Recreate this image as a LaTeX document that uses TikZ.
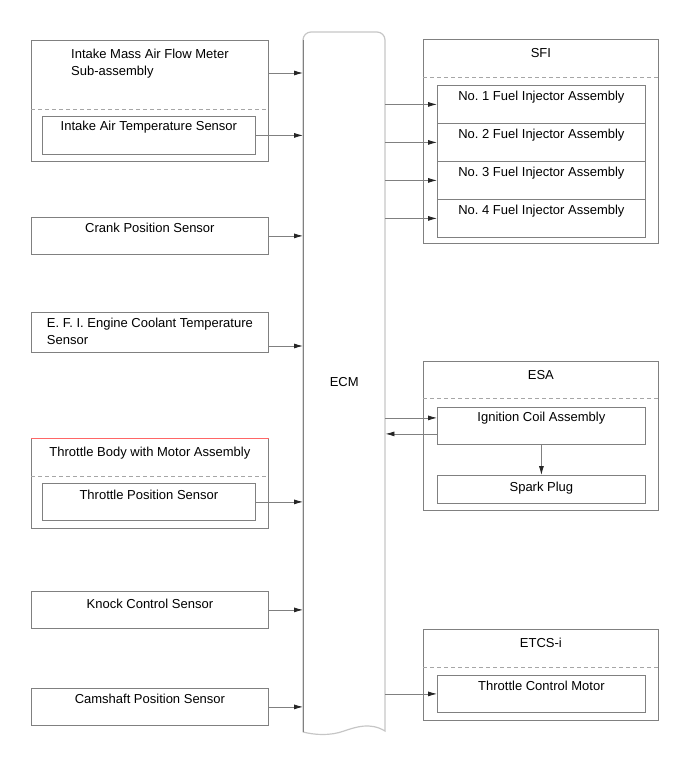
\documentclass[tikz,border=0pt]{standalone}
\usepackage{fontspec}
\setmainfont{Liberation Sans}
\usetikzlibrary{arrows.meta}
\tikzset{
  box/.style={draw=gray,line width=.8pt,anchor=north west,inner sep=0pt,minimum width=237pt},
  obox/.style={draw=gray,line width=.8pt,anchor=north west,inner sep=0pt,minimum width=235pt},
  ibox/.style={draw=gray,line width=.8pt,anchor=north west,inner sep=0pt,minimum width=208pt,minimum height=38pt},
  txt/.style={font=\fontsize{13}{17}\selectfont\frenchspacing,align=left,inner sep=0pt},
  dsh/.style={gray!70,line width=.8pt,dashed,dash pattern=on 4pt off 3pt},
  arr/.style={draw=gray,line width=.8pt,-{Latex[length=9pt,width=5pt,color=black!85]}}
}
\begin{document}
\begin{tikzpicture}[x=1pt,y=-1pt]
\useasboundingbox (0,0) rectangle (691,757);
% ECM
\node[anchor=north west,minimum width=82pt,minimum height=700pt,inner sep=0pt,
  font=\fontsize{13}{17}\selectfont] (ecm) at (303,32) {ECM};
\draw[gray!45,line width=1.2pt] (303,732) -- (303,40) arc[start angle=180,end angle=270,radius=8]
  -- (377,32) arc[start angle=270,end angle=360,radius=8] -- (385,731)
  .. controls (370,722) and (356,727) .. (344,731) .. controls (330,736) and (315,735) .. (303,732);
\draw[gray,line width=1pt] (303,732) -- (303,40);
% left side
\node[box,minimum height=121pt] (maf) at (31,40) {};
\node[txt] (maft) at ([yshift=-23.5pt]maf.north) {Intake Mass Air Flow Meter\\Sub-assembly};
\draw[dsh] ([yshift=-69pt]maf.north west) -- ([yshift=-69pt]maf.north east);
\node[box,minimum width=213pt,minimum height=38pt] (iat) at (42,116) {};
\node[txt] (iatt) at ([yshift=-11pt]iat.north) {Intake Air Temperature Sensor};

\node[box,minimum height=37pt] (crank) at (31,217) {};
\node[txt] (crankt) at ([yshift=-11pt]crank.north) {Crank Position Sensor};

\node[box,minimum height=40pt] (efi) at (31,312) {};
\node[txt] (efit) at ([yshift=-19pt]efi.north) {E. F. I. Engine Coolant Temperature\\Sensor};

\node[box,minimum height=90pt] (tb) at (31,438) {};
\draw[red!60,line width=.8pt] (tb.north west) -- (tb.north east);
\node[txt] (tbt) at ([yshift=-15pt]tb.north) {Throttle Body with Motor Assembly};
\draw[dsh] ([yshift=-38pt]tb.north west) -- ([yshift=-38pt]tb.north east);
\node[box,minimum width=213pt,minimum height=37pt] (tps) at (42,483) {};
\node[txt] (tpst) at ([yshift=-12pt]tps.north) {Throttle Position Sensor};

\node[box,minimum height=37pt] (knock) at (31,591) {};
\node[txt] (knockt) at ([yshift=-13pt]knock.north) {Knock Control Sensor};

\node[box,minimum height=37pt] (cam) at (31,688) {};
\node[txt] (camt) at ([yshift=-11pt]cam.north) {Camshaft Position Sensor};

% right side
\node[obox,minimum height=204pt] (sfi) at (423,39) {};
\node[txt] (sfit) at ([yshift=-14pt]sfi.north) {SFI};
\draw[dsh] ([yshift=-38pt]sfi.north west) -- ([yshift=-38pt]sfi.north east);
\foreach \i in {1,...,4}{
  \node[ibox] (inj\i) at (437,{85+38*(\i-1)}) {};
  \node[txt] (inj\i t) at ([yshift=-12pt]inj\i.north) {No. \i\ Fuel Injector Assembly};
  \draw[arr] (ecm.east |- inj\i.west) -- (inj\i.west);
}

\node[obox,minimum height=149pt] (esa) at (423,361) {};
\node[txt] (esat) at ([yshift=-14pt]esa.north) {ESA};
\draw[dsh] ([yshift=-37pt]esa.north west) -- ([yshift=-37pt]esa.north east);
\node[ibox,minimum height=37pt] (ign) at (437,407) {};
\node[txt] (ignt) at ([yshift=-11pt]ign.north) {Ignition Coil Assembly};
\node[ibox,minimum height=28pt] (spark) at (437,475) {};
\node[txt] (sparkt) at ([yshift=-13pt]spark.north) {Spark Plug};

\node[obox,minimum height=91pt] (etcs) at (423,629) {};
\node[txt] (etcst) at ([yshift=-14pt]etcs.north) {ETCS-i};
\draw[dsh] ([yshift=-38pt]etcs.north west) -- ([yshift=-38pt]etcs.north east);
\node[ibox,minimum height=37pt] (tcm) at (437,675) {};
\node[txt] (tcmt) at ([yshift=-11pt]tcm.north) {Throttle Control Motor};

% inputs
\draw[arr] ([yshift=-33pt]maf.north east) -- ([yshift=-33pt]maf.north east -| ecm.west);
\draw[arr] (iat.east) -- (iat.east -| ecm.west);
\draw[arr] (crank.east) -- (crank.east -| ecm.west);
\draw[arr] ([yshift=-34pt]efi.north east) -- ([yshift=-34pt]efi.north east -| ecm.west);
\draw[arr] (tps.east) -- (tps.east -| ecm.west);
\draw[arr] (knock.east) -- (knock.east -| ecm.west);
\draw[arr] (cam.east) -- (cam.east -| ecm.west);
% outputs
\draw[arr] ([yshift=8pt]ign.west -| ecm.east) -- ([yshift=8pt]ign.west);
\draw[arr] ([yshift=-8pt]ign.west) -- ([yshift=-8pt]ign.west -| ecm.east);
\draw[arr] (ign.south) -- (spark.north);
\draw[arr] (ecm.east |- tcm.west) -- (tcm.west);
\end{tikzpicture}
\end{document}
